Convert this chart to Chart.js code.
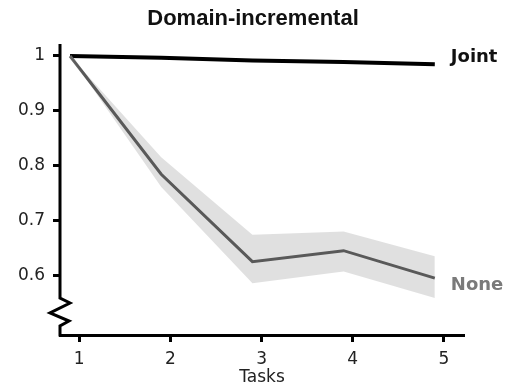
<!DOCTYPE html>
<html>
<head>
<meta charset="utf-8">
<script src="https://cdn.jsdelivr.net/npm/chart.js@4/dist/chart.umd.min.js"></script>
<style>
  html, body { margin: 0; padding: 0; background: #fff; }
  #wrap { width: 506px; height: 388px; }
</style>
</head>
<body>
<div id="wrap"><canvas id="domainChart"></canvas></div>
<script>
// === Dữ liệu
const tasks = [1, 2, 3, 4, 5];
const jointAcc = [1.0, 0.997, 0.992, 0.989, 0.985];
const noneAcc = [1.0, 0.785, 0.626, 0.646, 0.596];
const noneUpper = [1.0, 0.816, 0.675, 0.681, 0.636];
const noneLower = [1.0, 0.762, 0.587, 0.608, 0.56];
const yTicks = [0.6, 0.7, 0.8, 0.9, 1];
const xTicks = [1, 2, 3, 4, 5];

const toPoints = (arr) => tasks.map((t, i) => ({ x: t, y: arr[i] }));

// === Tiêu đề, nhãn cuối đường, trục y có gấp khúc
const extrasPlugin = {
  id: "extras",
  afterDraw(chart) {
    const ctx = chart.ctx;
    const area = chart.chartArea;
    const xs = chart.scales.x;
    const ys = chart.scales.y;
    ctx.save();

    ctx.fillStyle = "#111";
    ctx.font = "bold 22px 'Liberation Sans', Arial, sans-serif";
    ctx.textAlign = "center";
    ctx.textBaseline = "middle";
    ctx.fillText("Domain-incremental", 253, 19);

    const lastX = xs.getPixelForValue(tasks[tasks.length - 1]) + 16;
    ctx.textAlign = "left";
    ctx.font = "bold 18px 'DejaVu Sans', sans-serif";
    ctx.fillStyle = "#111";
    ctx.fillText("Joint", lastX, ys.getPixelForValue(jointAcc[jointAcc.length - 1]) - 7);
    ctx.fillStyle = "#7a7a7a";
    ctx.fillText("None", lastX, ys.getPixelForValue(noneAcc[noneAcc.length - 1]) + 7);

    // trục y
    const L = area.left;
    const B = area.bottom;
    ctx.strokeStyle = "#000";
    ctx.lineWidth = 3;
    ctx.lineJoin = "miter";
    ctx.beginPath();
    ctx.moveTo(L, area.top);
    ctx.lineTo(L, B - 37);
    ctx.lineTo(L + 10, B - 32);
    ctx.lineTo(L - 10, B - 22);
    ctx.lineTo(L + 9, B - 14);
    ctx.lineTo(L, B - 9);
    ctx.lineTo(L, B + 1.5);
    ctx.stroke();
    ctx.restore();
  },
};

window.addEventListener("DOMContentLoaded", () => {
  const ctx = document.getElementById("domainChart").getContext("2d");
  new Chart(ctx, {
    type: "line",
    data: {
      datasets: [
        {
          label: "None upper",
          data: toPoints(noneUpper),
          borderWidth: 0,
          borderColor: "rgba(0,0,0,0)",
          pointRadius: 0,
          fill: false,
        },
        {
          label: "None lower",
          data: toPoints(noneLower),
          borderWidth: 0,
          borderColor: "rgba(0,0,0,0)",
          backgroundColor: "rgba(0,0,0,0.12)",
          pointRadius: 0,
          fill: "-1",
        },
        {
          label: "None",
          data: toPoints(noneAcc),
          borderColor: "#666",
          borderWidth: 3,
          pointRadius: 0,
          fill: false,
        },
        {
          label: "Joint",
          data: toPoints(jointAcc),
          borderColor: "#000",
          borderWidth: 4,
          pointRadius: 0,
          fill: false,
        },
      ],
    },
    options: {
      responsive: true,
      maintainAspectRatio: false,
      animation: false,
      layout: { padding: { top: 44, right: 42, left: 0, bottom: 0 } },
      plugins: {
        legend: { display: false },
        tooltip: { enabled: false },
      },
      scales: {
        x: {
          type: "linear",
          min: 0.89,
          max: 5.32,
          afterFit: (s) => { s.height = 53; },
          // vạch chia lệch 0.1 như hình gốc
          afterBuildTicks: (s) => { s.ticks = xTicks.map((v) => ({ value: v + 0.1 })); },
          border: { display: true, color: "#000", width: 3 },
          grid: { drawOnChartArea: false, drawTicks: true, tickLength: 7, tickWidth: 3, tickColor: "#000" },
          ticks: {
            padding: 7,
            color: "#222",
            font: { family: "'DejaVu Sans'", size: 17 },
            callback: (v) => String(Math.round(v - 0.1)),
          },
          title: {
            display: true,
            text: "Tasks",
            color: "#222",
            padding: { top: 0, bottom: 0 },
            font: { family: "'DejaVu Sans'", size: 17 },
          },
        },
        y: {
          min: 0.4927,
          max: 1.0218,
          afterFit: (s) => { s.width = 60; },
          afterBuildTicks: (s) => { s.ticks = yTicks.map((v) => ({ value: v })); },
          border: { display: false },
          grid: { drawOnChartArea: false, drawTicks: true, tickLength: 7, tickWidth: 3, tickColor: "#000" },
          ticks: {
            padding: 8,
            color: "#222",
            font: { family: "'DejaVu Sans'", size: 17 },
            callback: (v) => (v === 1 ? "1" : v.toFixed(1)),
          },
        },
      },
    },
    plugins: [extrasPlugin],
  });
});
</script>
</body>
</html>
